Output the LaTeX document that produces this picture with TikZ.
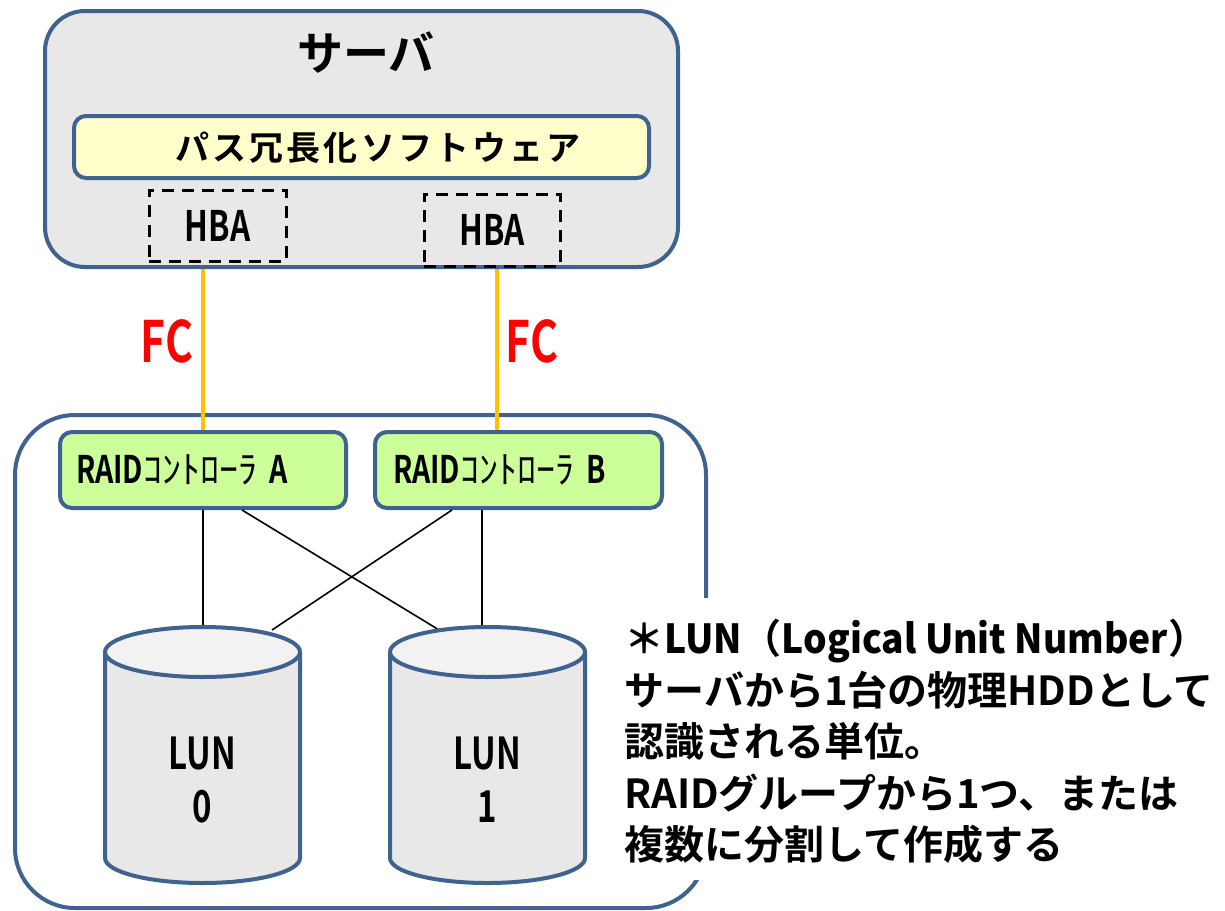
\documentclass[tikz,border=0pt]{standalone}
\usepackage{fontspec}
\setmainfont{Noto Sans CJK JP}[BoldFont={Noto Sans CJK JP Bold}]
\newfontfamily\nar{Noto Sans CJK JP Bold}[FakeStretch=0.75]
\newfontfamily\notelat{Noto Sans CJK JP Bold}[FakeStretch=0.93]
\definecolor{bord}{HTML}{3F628E}
\definecolor{srvgray}{HTML}{E8E8E8}
\definecolor{softyellow}{HTML}{FFFFCC}
\definecolor{raidgreen}{HTML}{CCFF99}
\definecolor{fcorange}{HTML}{FFC000}
\definecolor{cylbody}{HTML}{E8E8E8}
\definecolor{cyltop}{HTML}{F2F2F2}
\tikzset{
  bluebox/.style={draw=bord, line width=2pt, inner sep=0pt},
  serverbox/.style={bluebox, fill=srvgray, rounded corners=20pt},
  storebox/.style={bluebox, fill=white, rounded corners=30pt},
  softbox/.style={bluebox, fill=softyellow, rounded corners=6pt},
  raidbox/.style={bluebox, fill=raidgreen, rounded corners=6pt, align=left,
    font=\fontsize{19pt}{22pt}\selectfont},
  hbabox/.style={draw=black, line width=1.5pt, dash pattern=on 6pt off 4pt,
    inner sep=0pt, font=\nar\fontsize{21pt}{24pt}\selectfont},
  fcline/.style={draw=fcorange, line width=2.2pt},
  fclabel/.style={text=red, inner sep=0pt, font=\nar\fontsize{28.5pt}{30pt}\selectfont},
  link/.style={draw=black, line width=0.8pt},
  cylfill/.style={fill=cylbody, draw=bord, line width=2pt},
  cyltopfill/.style={fill=cyltop, draw=bord, line width=2pt},
  lunlabel/.style={align=center, inner sep=0pt,
    font=\nar\fontsize{22pt}{26.5pt}\selectfont},
}
\begin{document}
\begin{tikzpicture}[x=0.5pt,y=-0.5pt]
\useasboundingbox (0,0) rectangle (1225,910);

% storage enclosure
\node[storebox, minimum width=345.5pt, minimum height=246.5pt] (store) at (360.5,661.5) {};

% RAID controllers
\node[raidbox, minimum width=143pt, minimum height=38pt, inner xsep=8pt, text width=127pt] (raidA) at (203,470)
  {{\nar RAID}ｺﾝﾄﾛｰﾗ {\nar A}};
\node[raidbox, minimum width=143.5pt, minimum height=38pt, inner xsep=9pt, text width=125.5pt] (raidB) at (518.5,470)
  {{\nar RAID}ｺﾝﾄﾛｰﾗ {\nar B}};

% LUN tops
\coordinate (lun0top) at (202.5,627);
\coordinate (lun1top) at (487.5,627);

% links controller -> LUN
\draw[link] (raidA.south) -- (raidA.south |- lun0top);
\draw[link] ([xshift=19.5pt]raidA.south) -- ([xshift=-25pt,yshift=-1pt]lun1top);
\draw[link] ([xshift=-33.25pt]raidB.south) -- ([xshift=34.75pt,yshift=-1.5pt]lun0top);
\draw[link] ([xshift=-18.25pt]raidB.south) -- ([xshift=-18.25pt]raidB.south |- lun1top);

% cylinders
\foreach \cx/\nm in {202.5/0, 487.5/1}{
  \filldraw[cylfill] (\cx-97.5,652) -- (\cx-97.5,858)
     arc[start angle=180, end angle=360, x radius=48.75pt, y radius=12.5pt]
     -- (\cx+97.5,652);
  \filldraw[cyltopfill] (\cx,652) ellipse[x radius=48.75pt, y radius=12.5pt];
}
\node[lunlabel] (lun0) at (202.5,780) {LUN\\0};
\node[lunlabel] (lun1) at (487.5,780) {LUN\\1};

% FC links
\coordinate (fcA) at (203,262);
\coordinate (fcB) at (497,262);
\draw[fcline] (fcA) -- (fcA |- raidA.north);
\draw[fcline] (fcB) -- (fcB |- raidB.north);
\node[fclabel] (fcAl) at (167,341) {FC};
\node[fclabel] (fcBl) at (532,341) {FC};

% server
\node[serverbox, minimum width=316.5pt, minimum height=128pt] (server) at (361.5,139) {};
\node[inner sep=0pt, font=\bfseries\fontsize{23pt}{26pt}\selectfont] (srvtitle) at (366,53) {サーバ};
\node[softbox, minimum width=287.5pt, minimum height=31pt] (soft) at (361.5,147) {};
\node[inner sep=0pt, font=\bfseries\fontsize{17pt}{20pt}\selectfont\addfontfeature{LetterSpace=9}] (softtxt) at (378,148) {パス冗長化ソフトウェア};
\node[hbabox, minimum width=68.5pt, minimum height=35.5pt] (hba1) at (217.5,225.5) {HBA};
\node[hbabox, minimum width=68pt, minimum height=36pt] (hba2) at (492,230) {HBA};

% note
\fill[white] (615,598) rectangle (1225,880);
\node[anchor=north west, inner sep=0pt, align=left,
  font=\bfseries\fontsize{20pt}{25.75pt}\selectfont] (note) at (624,619)
  {＊{\notelat LUN}（{\notelat Logical Unit Number}）\\
   サーバから1台の物理HDDとして\\
   認識される単位。\\
   RAIDグループから1つ、または\\
   複数に分割して作成する};
\end{tikzpicture}
\end{document}
